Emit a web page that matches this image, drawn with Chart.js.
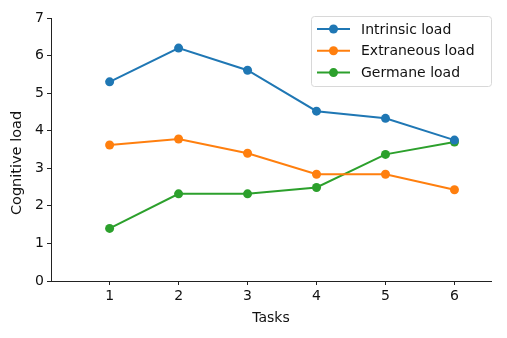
<!DOCTYPE html>
<html>
<head>
<meta charset="utf-8">
<script src="https://cdn.jsdelivr.net/npm/chart.js@4"></script>
<style>
  html, body { margin: 0; padding: 0; background: #fff; }
  #wrap { width: 507px; height: 338px; }
</style>
</head>
<body>
<div id="wrap"><canvas id="chart" width="507" height="338"></canvas></div>
<script>
const tasks = [1, 2, 3, 4, 5, 6];
const intrinsicLoad = [5.30, 6.20, 5.61, 4.52, 4.33, 3.75];
const extraneousLoad = [3.62, 3.78, 3.40, 2.84, 2.84, 2.43];
const germaneLoad = [1.40, 2.32, 2.32, 2.49, 3.37, 3.70];
const yTicks = [0, 1, 2, 3, 4, 5, 6, 7];

const seriesNames = ['Intrinsic load', 'Extraneous load', 'Germane load'];
const seriesColors = ['#1f77b4', '#ff7f0e', '#2ca02c'];
const FONT = "'DejaVu Sans', sans-serif";

function toPoints(values) {
    return tasks.map((t, i) => ({ x: t, y: values[i] }));
}

// legend drawn inside the plot, upper right like matplotlib
const insideLegend = {
    id: 'insideLegend',
    afterDraw(chart) {
        const ctx = chart.ctx;
        const box = { x: 311, y: 16, w: 180, h: 70 };
        ctx.save();
        ctx.fillStyle = 'rgba(255,255,255,0.8)';
        ctx.strokeStyle = '#d8d8d8';
        ctx.lineWidth = 1;
        ctx.beginPath();
        ctx.roundRect(box.x + 0.5, box.y + 0.5, box.w, box.h, 3);
        ctx.fill();
        ctx.stroke();
        ctx.font = '14px ' + FONT;
        ctx.textBaseline = 'middle';
        chart.data.datasets.forEach((ds, i) => {
            const y = box.y + 13 + i * 21.8;
            ctx.strokeStyle = ds.borderColor;
            ctx.lineWidth = 2;
            ctx.beginPath();
            ctx.moveTo(box.x + 6, y);
            ctx.lineTo(box.x + 39, y);
            ctx.stroke();
            ctx.fillStyle = ds.backgroundColor;
            ctx.beginPath();
            ctx.arc(box.x + 22.5, y, 4.5, 0, Math.PI * 2);
            ctx.fill();
            ctx.fillStyle = '#111';
            ctx.fillText(ds.label, box.x + 50, y + 1);
        });

        // y axis title, sits a bit below the axis centre in the original
        ctx.translate(17, 163);
        ctx.rotate(-Math.PI / 2);
        ctx.textAlign = 'center';
        ctx.font = '14.5px ' + FONT;
        ctx.fillStyle = '#111';
        ctx.fillText('Cognitive load', 0, 0);
        ctx.restore();
    }
};

new Chart(document.getElementById('chart'), {
    type: 'line',
    data: {
        datasets: [intrinsicLoad, extraneousLoad, germaneLoad].map((vals, i) => ({
            label: seriesNames[i],
            data: toPoints(vals),
            borderColor: seriesColors[i],
            backgroundColor: seriesColors[i],
            borderWidth: 2,
            pointRadius: 4.5,
            pointBorderWidth: 0,
            pointHoverRadius: 4.5,
            tension: 0
        }))
    },
    options: {
        responsive: false,
        animation: false,
        layout: { padding: { left: 0, top: 18, right: 16, bottom: 0 } },
        plugins: { legend: { display: false }, tooltip: { enabled: false } },
        scales: {
            x: {
                type: 'linear',
                min: 0.15,
                max: 6.53,
                afterBuildTicks: axis => { axis.ticks = tasks.map(v => ({ value: v })); },
                afterFit: scale => { scale.height = 57; },
                grid: { display: true, drawOnChartArea: false, drawTicks: true, tickLength: 4, color: '#222' },
                border: { display: true, color: '#222', width: 1 },
                ticks: { color: '#111', font: { family: FONT, size: 14 }, padding: 3, maxRotation: 0 },
                title: { display: true, text: 'Tasks', color: '#111', font: { family: FONT, size: 14 }, padding: { top: 4, bottom: 11 } }
            },
            y: {
                min: 0,
                max: 7,
                afterBuildTicks: axis => { axis.ticks = yTicks.map(v => ({ value: v })); },
                afterFit: scale => { scale.width = 51; },
                grid: { display: true, drawOnChartArea: false, drawTicks: true, tickLength: 4, color: '#222' },
                border: { display: true, color: '#222', width: 1 },
                ticks: { color: '#111', font: { family: FONT, size: 14 }, padding: 3 },
                title: { display: false }
            }
        }
    },
    plugins: [insideLegend]
});
</script>
</body>
</html>
